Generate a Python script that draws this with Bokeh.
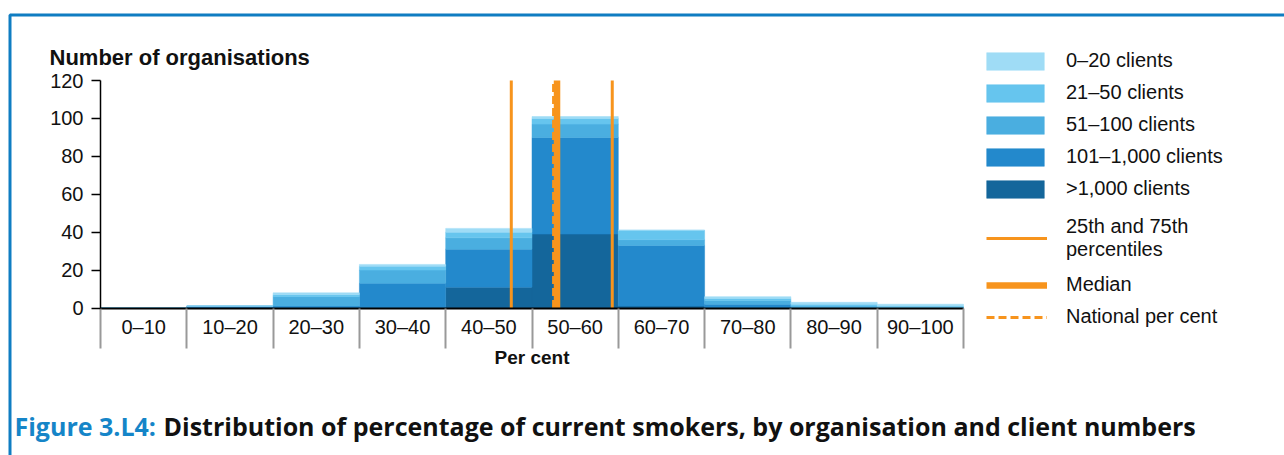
from bokeh.plotting import figure
from bokeh.models import (ColumnDataSource, FixedTicker, Legend, LegendItem, Label,
                          BoxAnnotation, Range1d, LinearAxis)
from bokeh.embed import file_html
from bokeh.resources import INLINE

# ---------------- data ----------------
bins = ["0–10", "10–20", "20–30", "30–40", "40–50",
        "50–60", "60–70", "70–80", "80–90", "90–100"]
bin_start = [0, 10, 20, 30, 40, 50, 60, 70, 80, 90]
bin_width = 10

over_1000 = [0, 0, 0, 0, 11, 39, 1, 0, 0, 0]
c101_1000 = [0, 1, 1, 13, 20, 51, 32, 2, 0, 0]
c51_100 = [0, 0, 5, 7, 6, 7, 3, 2, 1, 0]
c21_50 = [0, 0, 1, 2, 3, 3, 5, 1, 1, 1]
c0_20 = [0, 0, 1, 1, 2, 1, 0, 1, 1, 1]

series_names = [">1,000 clients", "101–1,000 clients", "51–100 clients",
                "21–50 clients", "0–20 clients"]
series_colors = ["#14669b", "#2389cc", "#4aaee0", "#66c5ee", "#9fdcf6"]

percentile_25 = 47.6
percentile_75 = 59.3
median = 52.9
national = 52.5

y_ticks = [0, 20, 40, 60, 80, 100, 120]

ORANGE = "#f7941d"
BLUE = "#0f7dc2"
CAPTION_BLUE = "#1585c8"
FONT = "Liberation Sans"

# ---------------- layout (pixels) ----------------
W, H = 1284, 455
AX_LEFT, AX_RIGHT = 100, 963      # pixel x of 0 % and 100 %
AX_BOTTOM, AX_TOP = 307.5, 80     # pixel y of 0 and 120 organisations

x0, x1 = bin_start[0], bin_start[-1] + bin_width
y0, y1 = y_ticks[0], y_ticks[-1]
sx = (AX_RIGHT - AX_LEFT) / (x1 - x0)
sy = (AX_BOTTOM - AX_TOP) / (y1 - y0)
x_range = Range1d(x0 - AX_LEFT / sx, x1 + (W - AX_RIGHT) / sx)
y_range = Range1d(y0 - (H - AX_BOTTOM) / sy, y1 + AX_TOP / sy)

centers = [s + bin_width / 2 for s in bin_start]
edges = bin_start + [x1]
keys = ["k0", "k1", "k2", "k3", "k4"]
src = ColumnDataSource(dict(x=centers, k0=over_1000, k1=c101_1000, k2=c51_100,
                            k3=c21_50, k4=c0_20))

p = figure(width=W, height=H, output_backend="svg", toolbar_location=None,
           x_range=x_range, y_range=y_range,
           min_border_left=0, min_border_right=0, min_border_top=0, min_border_bottom=0)
p.outline_line_color = None
p.grid.visible = False
p.background_fill_color = "white"
p.border_fill_color = "white"

bars = p.vbar_stack(keys, x="x", width=bin_width, color=series_colors, source=src,
                    line_width=0.5)

r_pct = p.segment(x0=[percentile_25, percentile_75], y0=[y0, y0],
                  x1=[percentile_25, percentile_75], y1=[y1, y1],
                  line_color=ORANGE, line_width=3)
r_nat = p.segment(x0=[national], y0=[y0], x1=[national], y1=[y1],
                  line_color=ORANGE, line_width=3, line_dash="8 4")
r_med = p.segment(x0=[median], y0=[y0], x1=[median], y1=[y1],
                  line_color=ORANGE, line_width=6.5)

# y axis
ya = p.yaxis[0]
ya.fixed_location = x0
ya.bounds = (y0, y1)
ya.ticker = FixedTicker(ticks=y_ticks)
ya.major_tick_out = 9
ya.major_tick_in = 0
ya.minor_tick_line_color = None
ya.axis_line_width = 1.5
ya.major_tick_line_width = 1.5
ya.axis_line_color = "black"
ya.major_tick_line_color = "black"
ya.major_label_text_font = FONT
ya.major_label_text_font_size = "20px"
ya.major_label_text_color = "#111111"
ya.major_label_standoff = 8

# x axis (labels in the middle of each bin)
xa = p.xaxis[0]
xa.fixed_location = y0
xa.bounds = (x0, x1)
xa.ticker = FixedTicker(ticks=centers)
xa.major_label_overrides = {c: b for c, b in zip(centers, bins)}
xa.major_tick_line_color = None
xa.major_tick_out = 0
xa.major_tick_in = 0
xa.minor_tick_line_color = None
xa.axis_line_color = "black"
xa.axis_line_width = 2
xa.major_label_text_font = FONT
xa.major_label_text_font_size = "20px"
xa.major_label_text_color = "#111111"
xa.major_label_standoff = 8
xa.axis_label = "Per cent"
xa.axis_label_text_font = FONT
xa.axis_label_text_font_style = "bold"
xa.axis_label_text_font_size = "19px"
xa.axis_label_text_color = "#111111"
xa.axis_label_standoff = 5

# x axis separators at bin edges
xs = LinearAxis(fixed_location=y0, bounds=(x0, x1), ticker=FixedTicker(ticks=edges),
                axis_line_color=None, major_tick_in=0, major_tick_out=40,
                major_tick_line_color="#999999", major_tick_line_width=2,
                minor_tick_line_color=None, major_label_text_alpha=0,
                major_label_text_font_size="1px")
p.add_layout(xs, "below")

# legends
def style(lg):
    lg.border_line_color = None
    lg.background_fill_alpha = 0
    lg.padding = 0
    lg.margin = 0
    lg.label_text_font = FONT
    lg.label_text_font_size = "20px"
    lg.label_text_color = "#111111"

leg_a = Legend(items=[LegendItem(label=series_names[i], renderers=[bars[i]])
                      for i in range(4, -1, -1)],
               location=(979, 255))
style(leg_a)
leg_a.glyph_width = 72
leg_a.glyph_height = 22
leg_a.label_height = 22
leg_a.spacing = 9
leg_a.label_standoff = 15
p.add_layout(leg_a)

leg_b = Legend(items=[LegendItem(label="25th and 75th\npercentiles", renderers=[r_pct])],
               location=(986, 194))
style(leg_b)
leg_b.glyph_width = 61
leg_b.glyph_height = 44
leg_b.label_height = 44
leg_b.label_standoff = 19
p.add_layout(leg_b)

leg_c = Legend(items=[LegendItem(label="Median", renderers=[r_med]),
                      LegendItem(label="National per cent", renderers=[r_nat])],
               location=(986, 127))
style(leg_c)
leg_c.glyph_width = 61
leg_c.glyph_height = 22
leg_c.label_height = 22
leg_c.spacing = 9
leg_c.label_standoff = 19
p.add_layout(leg_c)

# titles / frame
p.add_layout(Label(x=49, y=H - 57, x_units="screen", y_units="screen",
                   text="Number of organisations", text_font=FONT,
                   text_font_style="bold", text_font_size="22px",
                   text_color="#111111", text_baseline="middle"))
p.add_layout(Label(x=14, y=H - 425, x_units="screen", y_units="screen",
                   text="Figure 3.L4:", text_font="Open Sans", text_font_style="bold",
                   text_font_size="25px", text_color=CAPTION_BLUE,
                   text_baseline="middle"))
p.add_layout(Label(x=163, y=H - 425, x_units="screen", y_units="screen",
                   text="Distribution of percentage of current smokers, by organisation and client numbers",
                   text_font="Open Sans", text_font_style="bold",
                   text_font_size="25px", text_color="#111111",
                   text_baseline="middle"))
p.add_layout(BoxAnnotation(left=9.5, right=W + 50, top=H - 14.5, bottom=-50,
                           left_units="screen", right_units="screen",
                           top_units="screen", bottom_units="screen",
                           fill_color=None, fill_alpha=0, line_color=BLUE,
                           line_alpha=1, line_width=3))

open("out.html", "w").write(file_html(p, INLINE))
